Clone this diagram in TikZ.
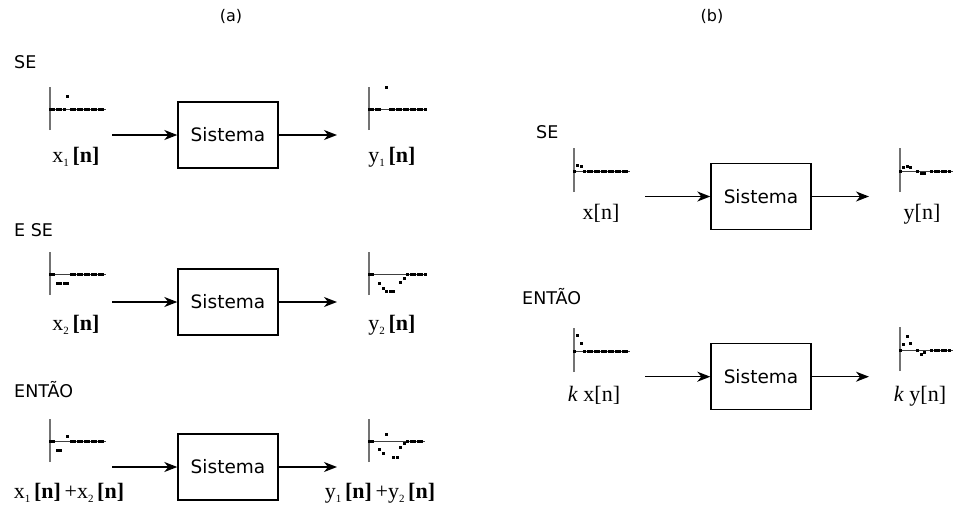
\documentclass[tikz,border=0pt]{standalone}
\usepackage{fontspec}
\setmainfont{Liberation Serif}
\newfontfamily\sansf{DejaVu Sans}
\usetikzlibrary{arrows.meta}
\newcommand{\ind}[1]{\raisebox{-3.5pt}{\fontsize{11}{11}\selectfont #1}}

\begin{document}
\begin{tikzpicture}[x=1pt,y=-1pt,
  caixa/.style={draw,line width=1.4pt,minimum width=100pt,minimum height=66pt,inner sep=0pt,
    font=\sansf\fontsize{18.5}{22}\selectfont},
  seta/.style={line width=1.3pt,arrows={-Stealth[length=13pt,width=10pt,inset=4pt]}},
  eixov/.style={color=black!55,line width=1.6pt},
  eixoh/.style={color=black!75,line width=0.8pt},
  rotulo/.style={anchor=base,inner sep=0pt,font=\fontsize{22}{26}\selectfont},
  titulo/.style={anchor=base west,inner sep=0pt,font=\sansf\fontsize{17.5}{21}\selectfont},
  letra/.style={inner sep=0pt,font=\sansf\fontsize{16}{19}\selectfont}]
  \useasboundingbox (0,0) rectangle (953,511);

  % (a)
  \node[letra] (ta) at (231,16) {(a)};
  \node[titulo] (seA) at (14,68.5) {SE};
  \node[titulo] (eseA) at (14,236.5) {E SE};
  \node[titulo] (entaoA) at (14,397.5) {ENTÃO};

  \begin{scope}[shift={(50,109)},yscale=-1]
    \draw[eixov] (0,-21) -- (0,22);
    \draw[eixoh] (0,0) -- (56,0);
    \foreach \n/\v in {0/0,1/0,2/0,3/0,4/0,5/13,6/0,7/0,8/0,9/0,10/0,11/0,12/0,13/0,14/0,15/0}
      \fill (3.5*\n-1.5,\v-1.5) rectangle ++(3,3);
  \end{scope}
  \begin{scope}[shift={(369,109)},yscale=-1]
    \draw[eixov] (0,-21) -- (0,22);
    \draw[eixoh] (0,0) -- (56,0);
    \foreach \n/\v in {0/0,1/0,2/0,3/0,5/22,6/0,7/0,8/0,9/0,10/0,11/0,12/0,13/0,14/0,15/0,16/0}
      \fill (3.5*\n-1.5,\v-1.5) rectangle ++(3,3);
  \end{scope}
  \coordinate (entA1) at (112,135);
  \node[caixa] (sistA1) at (228,135) {Sistema};
  \coordinate (saiA1) at (337,135);
  \draw[seta] (entA1) -- (sistA1.west);
  \draw[seta] (sistA1.east) -- (saiA1);
  \node[rotulo] (xA1) at (76,162.6) {x\ind{1}\,\textbf{[n]}};
  \node[rotulo] (yA1) at (392,162.6) {y\ind{1}\,\textbf{[n]}};

  \begin{scope}[shift={(50,274)},yscale=-1]
    \draw[eixov] (0,-21) -- (0,22);
    \draw[eixoh] (0,0) -- (56,0);
    \foreach \n/\v in {0/0,1/0,2/-9,3/-9,4/-9,5/-9,6/0,7/0,8/0,9/0,10/0,11/0,12/0,13/0,14/0,15/0}
      \fill (3.5*\n-1.5,\v-1.5) rectangle ++(3,3);
  \end{scope}
  \begin{scope}[shift={(369,274)},yscale=-1]
    \draw[eixov] (0,-21) -- (0,22);
    \draw[eixoh] (0,0) -- (56,0);
    \foreach \n/\v in {0/0,1/0,3/-9,4/-14,5/-17,6/-17,7/-17,9/-8,10/-4,11/0,12/0,13/0,14/0,15/0,16/0}
      \fill (3.5*\n-1.5,\v-1.5) rectangle ++(3,3);
  \end{scope}
  \coordinate (entA2) at (112,302);
  \node[caixa] (sistA2) at (228,302) {Sistema};
  \coordinate (saiA2) at (337,302);
  \draw[seta] (entA2) -- (sistA2.west);
  \draw[seta] (sistA2.east) -- (saiA2);
  \node[rotulo] (xA2) at (76,330.6) {x\ind{2}\,\textbf{[n]}};
  \node[rotulo] (yA2) at (392,330.6) {y\ind{2}\,\textbf{[n]}};

  \begin{scope}[shift={(50,441)},yscale=-1]
    \draw[eixov] (0,-21) -- (0,22);
    \draw[eixoh] (0,0) -- (56,0);
    \foreach \n/\v in {0/0,1/0,2/-9,3/-9,5/5,6/0,7/0,8/0,9/0,10/0,11/0,12/0,13/0,14/0,15/0}
      \fill (3.5*\n-1.5,\v-1.5) rectangle ++(3,3);
  \end{scope}
  \begin{scope}[shift={(369,441)},yscale=-1]
    \draw[eixov] (0,-21) -- (0,22);
    \draw[eixoh] (0,0) -- (56,0);
    \foreach \n/\v in {0/0,1/0,3/-8,4/-12,5/7,7/-16,8/-16,9/-6,10/-2,11/0,12/0,13/0,14/0,15/0}
      \fill (3.5*\n-1.5,\v-1.5) rectangle ++(3,3);
  \end{scope}
  \coordinate (entA3) at (112,467);
  \node[caixa] (sistA3) at (228,467) {Sistema};
  \coordinate (saiA3) at (337,467);
  \draw[seta] (entA3) -- (sistA3.west);
  \draw[seta] (sistA3.east) -- (saiA3);
  \node[rotulo] (xA3) at (69,498.6) {x\ind{1}\,\textbf{[n]}\,+x\ind{2}\,\textbf{[n]}};
  \node[rotulo] (yA3) at (380,498.6) {y\ind{1}\,\textbf{[n]}\,+y\ind{2}\,\textbf{[n]}};

  % (b)
  \node[letra] (tb) at (712,16) {(b)};
  \node[titulo] (seB) at (536,138.5) {SE};
  \node[titulo] (entaoB) at (522,304.5) {ENTÃO};

  \begin{scope}[shift={(574,171)},yscale=-1]
    \draw[eixov] (0,-21) -- (0,23);
    \draw[eixoh] (0,0) -- (56,0);
    \foreach \n/\v in {0/0,1/6,2/5,3/0,4/0,5/0,6/0,7/0,8/0,9/0,10/0,11/0,12/0,13/0,14/0,15/0}
      \fill (3.5*\n-1.5,\v-1.5) rectangle ++(3,3);
  \end{scope}
  \begin{scope}[shift={(900,171)},yscale=-1]
    \draw[eixov] (0,-21) -- (0,23);
    \draw[eixoh] (0,0) -- (53,0);
    \foreach \n/\v in {0/0,1/4,2/5,3/4,5/0,6/-2,7/-2,9/0,10/0,11/0,12/0,13/0,14/0}
      \fill (3.5*\n-1.5,\v-1.5) rectangle ++(3,3);
  \end{scope}
  \coordinate (entB1) at (645,196.5);
  \node[caixa] (sistB1) at (761,196.5) {Sistema};
  \coordinate (saiB1) at (869,196.5);
  \draw[seta] (entB1) -- (sistB1.west);
  \draw[seta] (sistB1.east) -- (saiB1);
  \node[rotulo] (xB1) at (601,219.6) {x[n]};
  \node[rotulo] (yB1) at (922,219.6) {y[n]};

  \begin{scope}[shift={(574,351)},yscale=-1]
    \draw[eixov] (0,-21) -- (0,23);
    \draw[eixoh] (0,0) -- (56,0);
    \foreach \n/\v in {0/0,1/16,2/8,3/0,4/0,5/0,6/0,7/0,8/0,9/0,10/0,11/0,12/0,13/0,14/0,15/0}
      \fill (3.5*\n-1.5,\v-1.5) rectangle ++(3,3);
  \end{scope}
  \begin{scope}[shift={(900,350)},yscale=-1]
    \draw[eixov] (0,-21) -- (0,23);
    \draw[eixoh] (0,0) -- (53,0);
    \foreach \n/\v in {0/0,1/6,2/14,3/7,5/0,6/-4,7/-2,9/0,10/0,11/0,12/0,13/0,14/0}
      \fill (3.5*\n-1.5,\v-1.5) rectangle ++(3,3);
  \end{scope}
  \coordinate (entB2) at (645,376.7);
  \node[caixa] (sistB2) at (761,376.7) {Sistema};
  \coordinate (saiB2) at (869,376.7);
  \draw[seta] (entB2) -- (sistB2.west);
  \draw[seta] (sistB2.east) -- (saiB2);
  \node[rotulo] (xB2) at (594,401.6) {\textit{k}\ x[n]};
  \node[rotulo] (yB2) at (920,401.6) {\textit{k}\ y[n]};
\end{tikzpicture}
\end{document}
